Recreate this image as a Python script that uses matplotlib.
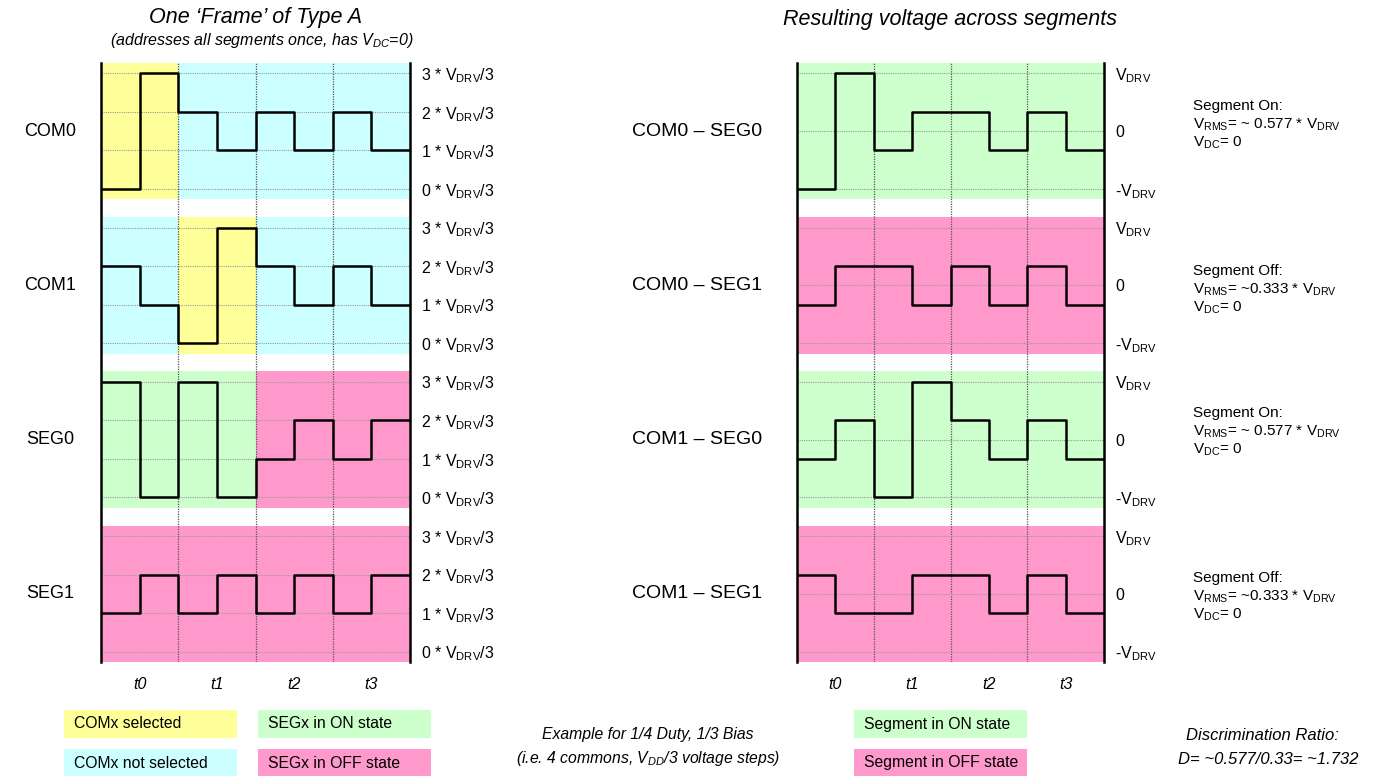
import matplotlib
matplotlib.use("Agg")
import matplotlib.pyplot as plt
from matplotlib.patches import Rectangle

plt.rcParams['font.family'] = ['Liberation Sans', 'DejaVu Sans']
plt.rcParams['mathtext.fontset'] = 'custom'
plt.rcParams['mathtext.rm'] = 'Liberation Sans'
plt.rcParams['mathtext.it'] = 'Liberation Sans:italic'
plt.rcParams['mathtext.bf'] = 'Liberation Sans:bold'

W, H = 1383, 776

# ---- data (half-slot levels, two per time slot) ----
slots = ['t0', 't1', 't2', 't3']
left_names = ['COM0', 'COM1', 'SEG0', 'SEG1']
com0 = [0, 3, 2, 1, 2, 1, 2, 1]
com1 = [2, 1, 0, 3, 2, 1, 2, 1]
seg0 = [3, 0, 3, 0, 1, 2, 1, 2]
seg1 = [1, 2, 1, 2, 1, 2, 1, 2]
left_waves = [com0, com1, seg0, seg1]
left_states = [['sel', 'not', 'not', 'not'],
               ['not', 'sel', 'not', 'not'],
               ['on', 'on', 'off', 'off'],
               ['off', 'off', 'off', 'off']]
left_levels = [0, 1, 2, 3]

right_names = ['COM0 \u2013 SEG0', 'COM0 \u2013 SEG1', 'COM1 \u2013 SEG0', 'COM1 \u2013 SEG1']
# in units of V_DRV/3
com0_seg0 = [-3, 3, -1, 1, 1, -1, 1, -1]
com0_seg1 = [-1, 1, 1, -1, 1, -1, 1, -1]
com1_seg0 = [-1, 1, -3, 3, 1, -1, 1, -1]
com1_seg1 = [1, -1, -1, 1, 1, -1, 1, -1]
right_waves = [com0_seg0, com0_seg1, com1_seg0, com1_seg1]
right_states = ['on', 'off', 'on', 'off']
right_levels = [-3, 0, 3]
right_level_labels = [r'-V$_{\mathrm{DRV}}$', '0', r'V$_{\mathrm{DRV}}$']

notes = [('Segment On:', r'V$_{\mathrm{RMS}}$= ~ 0.577 * V$_{\mathrm{DRV}}$'),
         ('Segment Off:', r'V$_{\mathrm{RMS}}$= ~0.333 * V$_{\mathrm{DRV}}$'),
         ('Segment On:', r'V$_{\mathrm{RMS}}$= ~ 0.577 * V$_{\mathrm{DRV}}$'),
         ('Segment Off:', r'V$_{\mathrm{RMS}}$= ~0.333 * V$_{\mathrm{DRV}}$')]

colors = {'sel': '#FFFF99', 'not': '#CCFFFF', 'on': '#CCFFCC', 'off': '#FF99CC'}


def fx(x):
    return x / W


def fy(y):
    return 1 - y / H


def px_axes(x0, y0, x1, y1):
    return [fx(x0), fy(y1), (x1 - x0) / W, (y1 - y0) / H]


fig = plt.figure(figsize=(W / 100, H / 100), dpi=100)


def setup(ax, half_span, pitch, ticks, labels):
    ax.set_xlim(0, 8)
    ax.set_ylim(-half_span, 3 * pitch + half_span)
    for s in ['top', 'bottom']:
        ax.spines[s].set_visible(False)
    for s in ['left', 'right']:
        ax.spines[s].set_linewidth(1.8)
        ax.spines[s].set_color('black')
    ax.set_xticks([2, 4, 6])
    ax.set_xticklabels([])
    ax.set_xticks([1, 3, 5, 7], minor=True)
    ax.set_xticklabels(slots, minor=True, style='italic', fontsize=11.5)
    ax.tick_params(axis='x', which='both', length=0, pad=11)
    ax.grid(axis='x', which='major', color='#555555', ls=(0, (1, 1)), lw=0.9)
    ax.set_yticks(ticks)
    ax.set_yticklabels(labels, fontsize=11.5)
    ax.yaxis.tick_right()
    ax.tick_params(axis='y', length=0, pad=8)
    ax.grid(axis='y', color='#999999', ls=(0, (1, 1)), lw=0.8)


# ---- left panel: driving waveforms ----
axl = fig.add_axes(px_axes(101, 63, 410, 662))
pitch_l, half_l = 4, 1.77
ticks, labels = [], []
for i, name in enumerate(left_names):
    c = (3 - i) * pitch_l
    for k, st in enumerate(left_states[i]):
        axl.fill_between([2 * k, 2 * k + 2], c - half_l, c + half_l,
                         color=colors[st], lw=0)
    wave = left_waves[i]
    axl.step(range(9), [c + v - 1.5 for v in wave + wave[-1:]], where='post',
             color='black', lw=1.8, zorder=3)
    for lv in left_levels:
        ticks.append(c + lv - 1.5)
        labels.append(r'%d * V$_{\mathrm{DRV}}$/3' % lv)
    axl.text(-0.165, c, name, transform=axl.get_yaxis_transform(),
             ha='center', va='center', fontsize=13)
setup(axl, half_l, pitch_l, ticks, labels)

# ---- right panel: resulting voltages ----
axr = fig.add_axes(px_axes(797, 63, 1104, 662))
pitch_r, half_r = 8, 3.54
ticks, labels = [], []
for i, name in enumerate(right_names):
    c = (3 - i) * pitch_r
    axr.fill_between([0, 8], c - half_r, c + half_r,
                     color=colors[right_states[i]], lw=0)
    wave = right_waves[i]
    axr.step(range(9), [c + v for v in wave + wave[-1:]], where='post',
             color='black', lw=1.8, zorder=3)
    for lv, lab in zip(right_levels, right_level_labels):
        ticks.append(c + lv)
        labels.append(lab)
    axr.text(-0.325, c, name, transform=axr.get_yaxis_transform(),
             ha='center', va='center', fontsize=14)
setup(axr, half_r, pitch_r, ticks, labels)

# ---- side notes ----
note_y = [106, 271, 413, 578]
for (head, rms), y in zip(notes, note_y):
    fig.text(fx(1193), fy(y), head, fontsize=11, va='center')
    fig.text(fx(1193), fy(y + 19), rms, fontsize=11, va='center')
    fig.text(fx(1193), fy(y + 37), r'V$_{\mathrm{DC}}$= 0', fontsize=11, va='center')

# ---- titles ----
fig.text(fx(256), fy(17), 'One \u2018Frame\u2019 of Type A', ha='center', va='center',
         style='italic', fontsize=15.5)
fig.text(fx(262), fy(40), '(addresses all segments once, has $V_{DC}$=0)',
         ha='center', va='center', style='italic', fontsize=11.5)
fig.text(fx(950), fy(19), 'Resulting voltage across segments', ha='center',
         va='center', style='italic', fontsize=15.5)

# ---- legend boxes ----
legend = [(64, 710, 'sel', 'COMx selected'),
          (64, 749, 'not', 'COMx not selected'),
          (258, 710, 'on', 'SEGx in ON state'),
          (258, 749, 'off', 'SEGx in OFF state'),
          (854, 710, 'on', 'Segment in ON state'),
          (854, 749, 'off', 'Segment in OFF state')]
for x, y, st, txt in legend:
    fig.add_artist(Rectangle((fx(x), fy(y + 28)), 173 / W, 28 / H,
                             transform=fig.transFigure, color=colors[st], lw=0))
    fig.text(fx(x + 10), fy(y + 14), txt, fontsize=11.3, va='center')

fig.text(fx(648), fy(735), 'Example for 1/4 Duty, 1/3 Bias', ha='center',
         va='center', style='italic', fontsize=11.3)
fig.text(fx(648), fy(759), '(i.e. 4 commons, $V_{DD}$/3 voltage steps)', ha='center',
         va='center', style='italic', fontsize=11.3)
fig.text(fx(1186), fy(735), 'Discrimination Ratio:', va='center',
         style='italic', fontsize=12)
fig.text(fx(1178), fy(759), 'D= ~0.577/0.33= ~1.732', va='center',
         style='italic', fontsize=12)

fig.savefig('out.png', dpi=100)
